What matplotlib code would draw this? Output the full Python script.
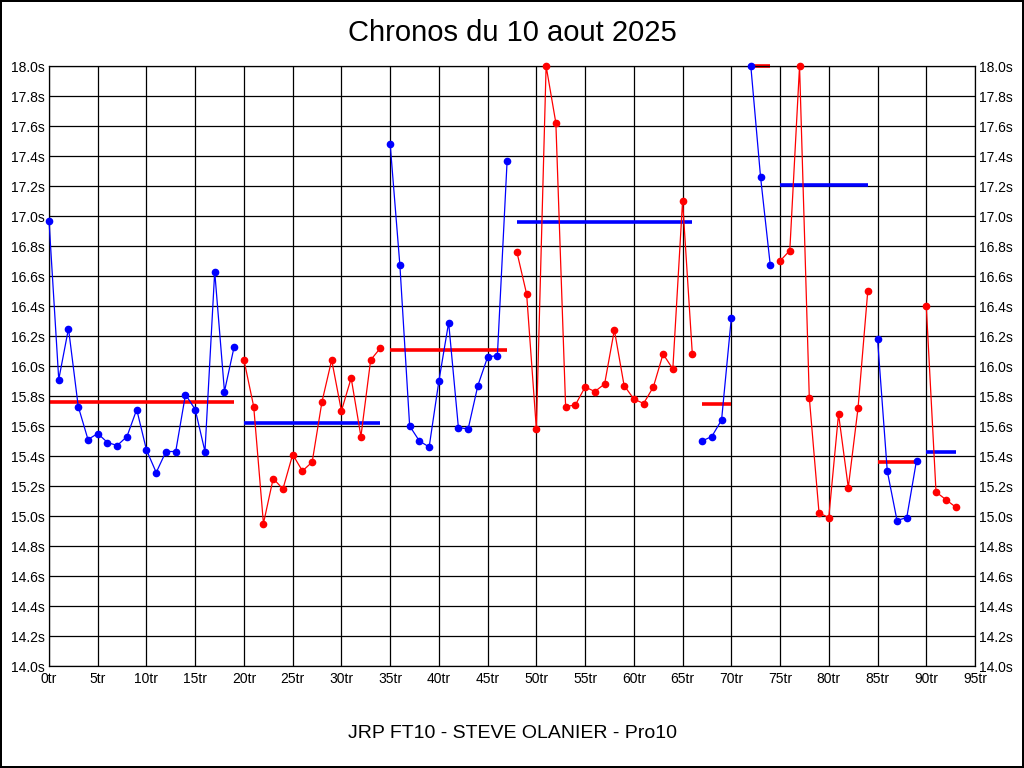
import matplotlib
matplotlib.use("Agg")
import matplotlib.pyplot as plt
import numpy as np

plt.rcParams["font.family"] = ["Liberation Sans", "DejaVu Sans"]

# lap times (s) per stint (values above 18.0 shown clipped)
t1 = [16.97, 15.91, 16.25, 15.73, 15.51, 15.55, 15.49, 15.47, 15.53, 15.71,
      15.44, 15.29, 15.43, 15.43, 15.81, 15.71, 15.43, 16.63, 15.83, 16.13]
t2 = [16.04, 15.73, 14.95, 15.25, 15.18, 15.41, 15.30, 15.36, 15.76, 16.04,
      15.70, 15.92, 15.53, 16.04, 16.12]
t3 = [17.48, 16.67, 15.60, 15.50, 15.46, 15.90, 16.29, 15.59, 15.58, 15.87,
      16.06, 16.07, 17.37]
t4 = [16.76, 16.48, 15.58, 18.00, 17.62, 15.73, 15.74, 15.86, 15.83, 15.88,
      16.24, 15.87, 15.78, 15.75, 15.86, 16.08, 15.98, 17.10, 16.08]
t5 = [15.50, 15.53, 15.64, 16.32]
t6 = [18.00, 17.26, 16.67]
t7 = [16.70, 16.77, 18.00, 15.79, 15.02, 14.99, 15.68, 15.19, 15.72, 16.50]
t8 = [16.18, 15.30, 14.97, 14.99, 15.37]
t9 = [16.40, 15.16, 15.11, 15.06]

stint_times = [t1, t2, t3, t4, t5, t6, t7, t8, t9]
stint_start = [0, 20, 35, 48, 67, 72, 75, 85, 90]
stint_color = ["blue", "red", "blue", "red", "blue", "blue", "red", "blue", "red"]
# average of each stint as drawn (includes the clipped slow laps)
stint_mean = [15.76, 15.62, 16.11, 16.96, 15.75, 18.00, 17.21, 15.36, 15.43]
mean_color = ["red", "blue", "red", "blue", "red", "red", "blue", "red", "blue"]

x_ticks = np.arange(0, 100, 5)
y_ticks = np.arange(14.0, 18.01, 0.2)

fig = plt.figure(figsize=(10.24, 7.68), dpi=100)
fig.patch.set_facecolor("white")
fig.patch.set_edgecolor("black")
fig.patch.set_linewidth(1.5)
ax = fig.add_axes([49 / 1024, 1 - 666 / 768, 926 / 1024, 600 / 768])

for times, start, col, m, mcol in zip(stint_times, stint_start, stint_color,
                                      stint_mean, mean_color):
    laps = np.arange(start, start + len(times))
    ax.plot(laps, times, color=col, lw=0.9, marker="o", ms=4.5,
            clip_on=False, zorder=3)
    ax.plot([laps[0], laps[-1]], [m, m], color=mcol, lw=2.6,
            solid_capstyle="butt", clip_on=False, zorder=2)

ax.set_xlim(0, 95)
ax.set_ylim(14.0, 18.0)
ax.set_xticks(x_ticks)
ax.set_xticklabels([f"{v}tr" for v in x_ticks])
ax.set_yticks(y_ticks)
ax.set_yticklabels([f"{v:.1f}s" for v in y_ticks])
ax.tick_params(length=0, labelsize=10, pad=4, colors="black")
ax.tick_params(axis="y", right=True, labelright=True, pad=3)
ax.grid(True, color="black", lw=0.9)
ax.set_axisbelow(True)
for s in ax.spines.values():
    s.set_color("black")
    s.set_linewidth(0.9)

fig.text(0.5, 1 - 33 / 768, "Chronos du 10 aout 2025", ha="center",
         va="center", fontsize=21)
fig.text(0.5, 1 - 733 / 768, "JRP FT10 - STEVE OLANIER - Pro10",
         ha="center", va="center", fontsize=14)

fig.savefig("out.png", dpi=100, facecolor="white", edgecolor="black")
